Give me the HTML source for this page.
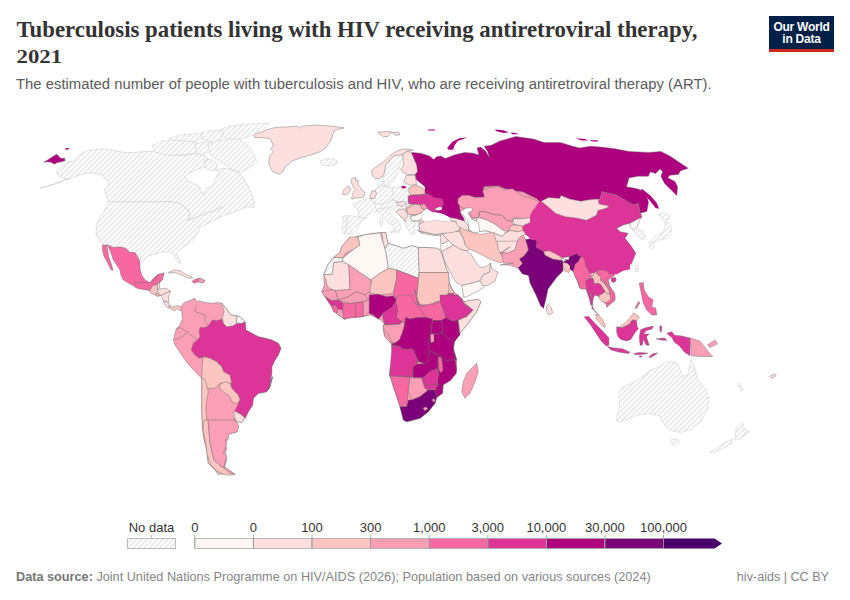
<!DOCTYPE html>
<html><head><meta charset="utf-8">
<style>
html,body{margin:0;padding:0;background:#fff;}
body{width:850px;height:600px;position:relative;overflow:hidden;font-family:"Liberation Sans",sans-serif;}
.t{position:absolute;white-space:nowrap;}
#title{left:16.5px;top:16.5px;font-family:"Liberation Serif",serif;font-weight:bold;font-size:22.8px;line-height:26px;color:#333;}
#yr{display:inline-block;transform:scaleY(0.82);transform-origin:0 80%;}
#sub{left:16px;top:75.5px;font-size:14.85px;color:#5b5b5b;}
#logo{position:absolute;left:769px;top:16px;width:65px;height:33px;background:#002147;border-bottom:3px solid #ce261e;color:#fff;font-weight:bold;font-size:12px;line-height:12px;text-align:center;}
#logo div{padding-top:5px;letter-spacing:-0.25px;}
.lg{font-size:13px;color:#333;}
#foot{left:16px;top:570px;font-size:12.7px;color:#858585;}
#foot b{color:#767676;}
#footr{right:21px;top:570px;font-size:12.6px;color:#858585;}
svg#map{position:absolute;left:0;top:0;}
</style></head>
<body>
<div class="t" id="title">Tuberculosis patients living with HIV receiving antiretroviral therapy,<br><span id="yr">2021</span></div>
<div class="t" id="sub">The estimated number of people with tuberculosis and HIV, who are receiving antiretroviral therapy (ART).</div>
<div id="logo"><div>Our World<br>in Data</div></div>

<svg id="map" width="850" height="600" viewBox="0 0 850 600">
<defs>
<pattern id="hatch" patternUnits="userSpaceOnUse" width="3.7" height="3.7" patternTransform="rotate(45)">
<rect width="3.7" height="3.7" fill="#fff"/>
<rect x="0" y="0" width="1.5" height="3.7" fill="#e6e6e6"/>
</pattern>
</defs>
<g id="land" stroke="none">
<path d="M56.7 170.8 L67.5 161.7 L73.3 160.8 L79.2 155.0 L86.7 150.8 L95.0 149.7 L104.2 148.7 L110.0 150.0 L118.3 151.3 L125.0 152.5 L133.3 152.5 L143.3 151.7 L153.3 151.3 L169.1 154.5 L182.1 155.6 L193.8 153.3 L204.4 155.6 L210.3 160.4 L206.8 167.4 L216.7 170.0 L223.3 168.3 L233.3 170.0 L240.0 173.3 L245.0 180.0 L250.0 190.0 L252.5 196.7 L254.2 203.3 L253.3 207.5 L246.7 206.7 L236.7 210.8 L223.3 215.8 L213.3 220.8 L200.0 227.5 L196.7 235.0 L191.7 241.7 L181.7 248.3 L175.8 253.3 L180.0 260.0 L180.8 264.2 L177.5 261.7 L174.2 255.8 L170.0 251.7 L163.3 251.7 L155.0 254.2 L148.3 255.8 L142.5 261.7 L137.5 255.0 L130.0 251.2 L123.8 247.5 L112.5 246.2 L102.5 245.0 L96.2 235.0 L96.2 225.0 L100.0 217.5 L105.0 210.0 L108.3 201.7 L106.7 195.8 L104.2 190.0 L107.5 186.7 L108.3 181.7 L105.0 178.3 L101.7 175.0 L96.7 173.7 L90.0 173.0 L81.7 174.2 L75.0 176.7 L67.5 179.2 L61.7 177.5 L57.5 175.0Z" fill="url(#hatch)" stroke="#ccc" stroke-width="0.6"/>
<path d="M40.0 188.3 L56.7 183.3 L68.3 178.8" fill="none" stroke="#ccc" stroke-width="1"/>
<path d="M185.0 176.7 L190.0 172.5 L200.0 168.3 L208.3 166.7 L216.7 170.0 L218.3 173.3 L215.0 180.0 L211.7 186.7 L206.7 188.3 L203.3 195.0 L200.8 190.0 L198.3 185.8 L193.3 183.3 L188.3 181.7Z" fill="#fff" stroke="#ccc" stroke-width="0.6"/>
<path d="M108.3 201.7 L170.0 201.7 L168.3 201.3 L180.0 203.3 L188.3 210.0 L190.0 216.7 L186.7 220.8 L200.0 215.8 L213.3 210.8 L223.3 206.7" fill="none" stroke="#ccc" stroke-width="0.7"/>
<path d="M253.5 133.8 L260.6 132.6 L266.5 129.7 L275.9 127.4 L288.8 126.8 L297.1 126.2 L299.4 127.9 L301.8 126.2 L315.9 125.0 L332.4 126.2 L344.1 127.9 L334.7 130.3 L332.4 136.2 L330.0 142.1 L325.3 147.9 L320.6 151.5 L311.2 155.0 L301.8 157.4 L292.4 160.9 L285.3 166.8 L282.9 171.5 L279.4 174.4 L272.4 171.5 L268.8 164.4 L269.4 156.2 L273.5 151.5 L270.6 149.1 L273.5 145.6 L270.0 138.5 L264.1 137.9 L254.7 137.4Z" fill="#fde0dd" stroke="#6e6e6e" stroke-width="0.45"/>
<path d="M320.0 161.2 L326.2 158.8 L333.8 158.8 L338.0 162.0 L333.8 165.5 L326.2 165.5 L321.2 164.5Z" fill="url(#hatch)" stroke="#ccc" stroke-width="0.6"/>
<path d="M43.7 162.5 L47.5 160.0 L52.5 156.7 L56.7 154.2 L59.2 156.7 L60.8 158.3 L64.7 158.3 L65.0 160.8 L61.7 161.7 L57.5 162.5 L54.2 164.2 L51.7 162.5 L47.5 161.7Z" fill="#ae017e" stroke="#6e6e6e" stroke-width="0.45"/>
<path d="M64.2 149.2 L66.7 148.0 L69.7 148.3 L67.5 149.7Z" fill="#ae017e" />
<path d="M102.5 245.0 L106.7 245.0 L107.5 249.2 L108.7 256.7 L111.7 265.0 L113.0 270.3 L110.8 269.7 L107.5 262.5 L104.2 256.7 L102.5 250.8Z" fill="#f768a1" stroke="#6e6e6e" stroke-width="0.45"/>
<path d="M107.0 244.7 L113.3 247.5 L120.0 247.0 L125.8 248.3 L130.0 252.5 L135.0 252.5 L137.5 256.7 L140.0 261.7 L140.0 268.3 L141.7 275.0 L145.0 280.0 L150.0 282.5 L154.2 277.5 L158.3 274.2 L163.7 274.2 L161.7 280.0 L159.2 283.3 L156.7 284.2 L152.5 285.0 L150.0 288.3 L146.7 290.0 L140.0 288.3 L131.7 285.0 L123.3 280.0 L120.8 275.0 L120.0 270.0 L116.7 265.0 L113.3 260.0 L110.8 252.5 L108.3 246.7Z" fill="#f768a1" stroke="#6e6e6e" stroke-width="0.45"/>
<path d="M135.0 282.6 L144.9 282.3 L150.3 282.6 L154.9 280.4 L157.2 275.0 L164.1 272.7 L162.5 279.6 L159.5 282.6 L157.2 283.4 L157.2 284.2 L152.6 285.7 L149.5 291.1 L146.5 289.5 L139.6 289.1 L135.0 287.2Z" fill="#f768a1" stroke="#6e6e6e" stroke-width="0.45"/>
<path d="M149.5 291.1 L152.6 285.7 L157.2 284.2 L157.9 289.5 L157.2 292.6 L160.2 295.6 L157.9 296.4 L154.9 294.9 L151.1 293.3Z" fill="#fcc5c0" stroke="#6e6e6e" stroke-width="0.45"/>
<path d="M157.2 283.4 L159.5 282.6 L159.5 287.2 L157.9 289.5Z" fill="#fde0dd" stroke="#6e6e6e" stroke-width="0.45"/>
<path d="M157.2 289.5 L162.5 288.4 L167.1 288.8 L170.6 291.1 L167.1 292.6 L161.0 295.6 L157.9 292.6Z" fill="#fde0dd" stroke="#6e6e6e" stroke-width="0.45"/>
<path d="M154.9 294.1 L157.9 293.3 L160.2 295.6 L157.2 296.0Z" fill="#fcc5c0" stroke="#6e6e6e" stroke-width="0.45"/>
<path d="M161.0 295.6 L167.1 292.6 L170.6 291.1 L168.6 296.4 L168.6 302.5 L164.1 301.4Z" fill="#fde0dd" stroke="#6e6e6e" stroke-width="0.45"/>
<path d="M163.3 301.4 L168.6 302.1 L170.2 305.6 L168.6 308.6 L164.8 304.8Z" fill="#fde0dd" stroke="#6e6e6e" stroke-width="0.45"/>
<path d="M168.6 305.6 L173.2 307.1 L177.8 305.6 L181.6 307.1 L182.4 310.2 L180.1 310.9 L177.0 308.6 L174.8 310.9 L170.2 308.6Z" fill="#fcc5c0" stroke="#6e6e6e" stroke-width="0.45"/>
<path d="M168.3 272.5 L174.2 270.0 L180.0 270.8 L185.8 274.2 L191.7 276.7 L192.5 278.3 L187.5 278.0 L181.7 275.0 L175.0 272.5 L170.0 273.3Z" fill="#fde0dd" stroke="#6e6e6e" stroke-width="0.45"/>
<path d="M191.7 281.7 L195.0 279.2 L200.0 278.3 L205.0 280.8 L203.3 282.5 L198.3 281.7 L195.0 283.0Z" fill="#f768a1" stroke="#6e6e6e" stroke-width="0.45"/>
<path d="M182.5 282.5 L187.5 283.0 L185.0 283.7Z" fill="#fde0dd" />
<path d="M180.8 306.7 L184.2 302.5 L190.8 300.0 L195.0 298.3 L196.7 301.7 L199.2 300.8 L205.0 302.5 L211.7 303.3 L218.3 302.5 L221.7 303.3 L226.7 309.2 L230.8 315.0 L236.7 315.8 L240.8 317.5 L245.0 321.7 L245.8 330.0 L251.7 333.3 L258.3 336.7 L265.0 338.3 L271.7 340.0 L278.3 343.3 L280.8 348.3 L278.3 355.0 L275.0 360.0 L271.7 366.7 L271.7 373.3 L270.0 383.3 L268.3 390.0 L272.5 376.7 L270.0 386.7 L266.7 391.7 L258.3 393.3 L253.3 398.3 L252.5 405.0 L248.3 411.7 L245.0 418.3 L241.7 422.5 L236.7 421.7 L234.2 418.3 L238.3 426.7 L236.7 431.7 L228.3 434.2 L227.5 440.0 L225.0 443.3 L226.7 448.3 L225.0 455.0 L226.7 460.0 L225.0 466.7 L225.8 470.0 L226.7 473.3 L218.3 474.2 L215.0 470.0 L208.3 463.3 L206.7 450.0 L204.2 440.0 L202.5 428.3 L201.7 411.7 L201.7 395.0 L201.7 378.3 L195.0 371.7 L187.5 363.3 L181.7 355.0 L175.0 345.0 L173.3 340.0 L175.0 333.3 L176.7 328.3 L180.0 325.0 L182.5 318.3 L181.7 311.7Z" fill="#fa9fb5" stroke="#6e6e6e" stroke-width="0.45"/>
<path d="M200.0 327.5 L205.0 327.5 L208.3 325.8 L212.5 320.0 L216.7 320.8 L221.7 319.2 L223.3 323.3 L226.7 326.7 L233.3 325.8 L236.7 323.3 L240.8 320.0 L245.0 321.7 L245.8 330.0 L251.7 333.3 L258.3 336.7 L265.0 338.3 L271.7 340.0 L278.3 343.3 L280.8 348.3 L278.3 355.0 L275.0 360.0 L271.7 366.7 L271.7 373.3 L270.0 383.3 L268.3 390.0 L272.5 376.7 L270.0 386.7 L266.7 391.7 L258.3 393.3 L253.3 398.3 L252.5 405.0 L248.3 411.7 L245.0 418.3 L241.7 415.0 L235.0 410.8 L240.0 400.0 L238.3 395.0 L231.7 388.3 L230.0 380.0 L223.3 370.0 L221.7 366.7 L216.7 361.7 L210.0 358.3 L205.0 356.7 L199.2 358.3 L195.0 355.0 L191.3 350.0 L193.3 343.3 L197.5 340.0 L200.0 336.7 L199.2 331.7Z" fill="#dd3497" stroke="#6e6e6e" stroke-width="0.45"/>
<path d="M203.3 356.7 L210.0 358.3 L216.7 361.7 L221.7 366.7 L223.3 371.7 L230.0 375.0 L231.7 383.3 L225.0 382.5 L220.0 383.3 L215.0 388.3 L208.3 388.3 L203.3 385.0 L201.7 376.7 L202.5 363.3Z" fill="#fcc5c0" stroke="#6e6e6e" stroke-width="0.45"/>
<path d="M219.2 385.0 L225.0 381.7 L230.0 383.3 L231.7 388.3 L238.3 395.0 L240.0 400.0 L236.7 403.3 L232.5 402.5 L230.0 396.7 L223.3 391.7 L220.0 388.3Z" fill="#fcc5c0" stroke="#6e6e6e" stroke-width="0.45"/>
<path d="M201.7 378.3 L205.0 379.2 L208.3 391.7 L206.7 400.0 L205.8 410.0 L207.5 428.3 L210.0 443.3 L213.3 450.0 L214.2 460.8 L218.3 468.3 L225.8 470.0 L226.7 473.3 L218.3 474.2 L215.0 470.0 L208.3 463.3 L206.7 450.0 L204.2 440.0 L202.5 428.3 L201.7 411.7 L201.7 395.0Z" fill="#fcc5c0" stroke="#6e6e6e" stroke-width="0.45"/>
<path d="M234.2 410.8 L241.7 415.0 L245.0 418.3 L241.7 422.5 L236.7 421.7 L234.2 416.7Z" fill="#fde0dd" stroke="#6e6e6e" stroke-width="0.45"/>
<path d="M221.7 303.3 L226.7 309.2 L230.8 315.0 L236.7 315.8 L236.7 323.3 L233.3 325.8 L226.7 326.7 L223.3 323.3 L222.5 316.7 L224.2 311.7Z" fill="#fde0dd" stroke="#6e6e6e" stroke-width="0.45"/>
<path d="M236.7 315.8 L240.8 317.5 L245.0 321.7 L241.7 323.3 L236.7 323.3Z" fill="url(#hatch)" stroke="#6e6e6e" stroke-width="0.45"/>
<path d="M195.8 305.8 L195.0 311.7 L205.0 315.0 L205.0 321.7 L208.3 325.8" fill="none" stroke="#6e6e6e" stroke-width="0.45"/>
<path d="M175.0 330.0 L180.0 327.5 L186.7 331.7 L193.3 336.7 L197.5 340.0" fill="none" stroke="#6e6e6e" stroke-width="0.45"/>
<path d="M173.3 340.0 L180.0 338.3 L186.7 333.3" fill="none" stroke="#6e6e6e" stroke-width="0.45"/>
<path d="M352.9 203.5 L357.6 201.8 L363.5 199.4 L369.4 198.2 L370.6 195.3 L374.1 190.6 L377.6 186.5 L378.8 181.8 L382.4 181.2 L382.9 185.3 L384.7 186.5 L391.8 187.6 L401.2 186.5 L407.1 187.6 L409.4 187.6 L408.8 191.2 L408.2 195.9 L408.2 201.8 L405.9 207.6 L405.9 211.2 L410.6 214.7 L411.8 220.6 L416.5 224.1 L412.9 227.6 L415.3 233.5 L410.6 234.7 L408.2 230.0 L405.9 225.3 L404.1 221.8 L401.2 217.1 L396.5 212.4 L391.8 208.8 L389.4 212.4 L392.9 217.1 L398.8 220.6 L401.2 225.3 L400.0 230.0 L397.6 233.5 L395.3 231.2 L392.9 225.3 L387.1 221.8 L383.5 217.1 L380.0 212.4 L376.5 211.2 L370.6 213.5 L365.9 217.1 L363.5 219.4 L361.2 221.8 L357.6 228.8 L352.9 233.5 L347.1 234.1 L343.5 233.5 L341.8 228.8 L343.5 221.8 L342.4 217.1 L344.7 215.3 L351.8 215.9 L358.8 217.1 L358.8 214.7 L357.6 208.8 L354.1 205.3Z" fill="url(#hatch)" stroke="#ccc" stroke-width="0.5"/>
<path d="M380.0 218.2 L382.4 217.1 L382.9 222.9 L381.2 226.5 L380.0 224.1Z" fill="url(#hatch)" stroke="#ccc" stroke-width="0.5"/>
<path d="M390.6 231.2 L395.3 230.6 L394.7 233.5 L390.6 232.9Z" fill="url(#hatch)" stroke="#ccc" stroke-width="0.5"/>
<path d="M384.8 170.2 L385.8 164.9 L390.1 159.6 L395.4 155.4 L398.5 154.4 L402.8 155.4 L400.7 161.8 L398.5 172.4 L396.4 175.5 L394.3 180.8 L390.1 185.1 L385.8 187.2 L383.7 182.9 L382.6 176.6Z" fill="url(#hatch)" stroke="#ccc" stroke-width="0.5"/>
<path d="M371.5 170.2 L377.4 166.0 L383.7 161.8 L390.1 155.4 L396.4 151.2 L402.8 149.1 L409.1 149.1 L413.4 150.1 L407.0 151.2 L402.8 154.4 L398.5 155.4 L394.3 155.4 L390.1 159.6 L385.8 164.9 L384.8 170.2 L383.7 175.5 L379.5 178.7 L375.2 178.7 L372.1 174.5Z" fill="#fde0dd" stroke="#6e6e6e" stroke-width="0.45"/>
<path d="M402.8 154.4 L407.0 151.2 L411.2 152.2 L416.5 158.6 L417.6 164.9 L418.7 170.2 L415.5 174.5 L408.1 174.5 L402.8 172.4 L400.7 169.2 L403.8 164.9 L402.8 159.6Z" fill="#fde0dd" stroke="#6e6e6e" stroke-width="0.45"/>
<path d="M377.4 132.1 L385.8 131.6 L392.2 132.1 L387.9 136.4 L383.7 136.9Z" fill="#fde0dd" stroke="#6e6e6e" stroke-width="0.45"/>
<path d="M392.2 132.6 L398.5 132.1 L399.6 134.8 L395.4 135.3Z" fill="#fde0dd" stroke="#6e6e6e" stroke-width="0.45"/>
<path d="M351.5 179.0 L353.0 178.0 L356.0 177.8 L355.5 180.0 L358.5 180.5 L357.5 184.0 L360.0 187.0 L362.0 190.0 L365.0 192.5 L364.5 196.0 L362.0 197.5 L356.0 198.0 L352.5 199.0 L351.0 198.5 L353.0 196.5 L352.5 194.5 L353.5 192.0 L355.5 189.5 L353.5 187.5 L352.5 185.0 L351.0 181.5Z" fill="#fde0dd" stroke="#6e6e6e" stroke-width="0.45"/>
<path d="M342.5 194.0 L343.5 190.0 L346.0 187.5 L348.0 186.2 L350.0 187.5 L350.5 189.0 L349.5 191.5 L347.5 194.0 L344.5 195.0Z" fill="#fde0dd" stroke="#6e6e6e" stroke-width="0.45"/>
<path d="M370.0 195.9 L371.8 191.2 L375.3 190.6 L376.5 193.5 L374.7 198.2 L370.6 198.8Z" fill="#fde0dd" stroke="#6e6e6e" stroke-width="0.45"/>
<path d="M405.9 175.5 L415.5 175.0 L416.5 185.1 L409.1 185.1 L403.8 181.9 L404.9 178.7Z" fill="#fde0dd" stroke="#6e6e6e" stroke-width="0.45"/>
<path d="M401.2 186.5 L402.9 185.9 L405.9 186.5 L405.9 188.2 L401.8 188.2Z" fill="#ae017e" />
<path d="M409.4 187.6 L415.3 184.7 L422.4 187.6 L425.9 191.8 L422.4 194.7 L410.6 195.3 L408.8 191.2Z" fill="#fcc5c0" stroke="#6e6e6e" stroke-width="0.45"/>
<path d="M408.2 195.9 L410.6 195.3 L422.4 194.7 L425.9 193.5 L434.1 197.1 L440.0 199.4 L440.0 208.8 L434.1 212.4 L430.6 208.8 L424.7 208.8 L422.4 205.3 L416.5 204.1 L410.6 204.1 L408.2 201.8Z" fill="#dd3497" stroke="#6e6e6e" stroke-width="0.45"/>
<path d="M405.9 207.6 L410.6 204.7 L416.5 204.1 L421.2 205.3 L424.7 210.0 L422.4 214.7 L415.3 215.3 L410.6 214.7 L405.9 211.2Z" fill="#fcc5c0" stroke="#6e6e6e" stroke-width="0.45"/>
<path d="M410.6 215.9 L421.2 215.3 L422.4 219.4 L416.5 221.8 L411.8 220.6Z" fill="#fff7f3" stroke="#6e6e6e" stroke-width="0.45"/>
<path d="M396.5 202.4 L403.5 201.2 L407.1 204.1 L402.4 206.5 L397.6 205.3Z" fill="#fde0dd" stroke="#6e6e6e" stroke-width="0.45"/>
<path d="M397.6 210.0 L403.5 208.8 L407.6 213.5 L407.1 217.6 L405.3 221.8 L403.5 218.2 L401.2 217.1 L396.5 212.4Z" fill="#fde0dd" stroke="#6e6e6e" stroke-width="0.45"/>
<path d="M418.8 221.8 L429.4 220.0 L440.0 221.8 L443.5 222.9 L443.5 235.9 L432.9 235.3 L422.4 233.5 L419.4 228.8Z" fill="#fde0dd" stroke="#6e6e6e" stroke-width="0.45"/>
<path d="M411.7 153.3 L411.8 152.4 L420.6 153.2 L429.4 155.9 L433.8 159.4 L436.5 156.8 L440.9 155.9 L445.3 158.5 L454.1 155.0 L464.7 152.4 L473.5 153.2 L478.8 155.0 L477.1 147.9 L480.6 147.1 L485.9 151.5 L489.4 157.6 L487.6 151.5 L484.1 146.2 L491.2 145.3 L500.0 140.9 L515.9 136.5 L533.5 139.1 L544.1 142.6 L560.0 142.6 L563.8 143.5 L572.6 146.2 L579.7 147.9 L590.3 146.2 L600.9 147.1 L615.0 148.8 L629.1 151.5 L648.5 152.4 L660.9 151.5 L669.7 155.9 L680.3 162.9 L688.2 168.2 L680.3 170.9 L678.5 174.4 L669.7 175.3 L667.9 177.9 L675.0 181.5 L677.6 186.8 L676.8 195.6 L671.5 190.3 L664.4 183.2 L660.9 176.2 L662.6 171.8 L660.0 169.1 L655.6 173.5 L650.3 171.8 L648.5 176.2 L637.9 176.2 L629.1 177.9 L626.5 186.8 L636.2 188.5 L641.5 190.3 L646.8 195.6 L648.5 202.6 L646.8 211.5 L639.7 213.2 L641.7 217.5 L640.0 211.7 L638.3 203.3 L633.3 205.0 L625.0 200.0 L616.7 195.0 L601.7 191.7 L600.0 198.3 L588.3 200.0 L578.3 200.0 L560.0 195.0 L550.0 198.3 L541.7 200.8 L540.6 202.6 L537.0 199.1 L522.9 192.1 L508.8 190.3 L498.2 185.9 L484.1 186.8 L482.3 195.6 L462.9 195.6 L457.6 199.1 L458.3 200.0 L460.0 211.7 L462.0 222.0 L458.3 223.3 L451.7 218.3 L441.7 215.0 L435.0 211.7 L438.3 208.3 L443.3 205.0 L443.3 200.0 L435.0 196.7 L425.0 193.3 L425.0 186.7 L416.7 180.0 L415.0 175.0 L417.5 171.7 L416.7 165.0Z" fill="#ae017e" stroke="#6e6e6e" stroke-width="0.45"/>
<path d="M447.1 147.9 L452.4 141.8 L459.4 138.2 L467.3 137.4 L457.6 140.9 L454.1 146.2 L453.2 149.7 L448.8 149.7Z" fill="#ae017e" />
<path d="M494.7 129.4 L503.5 130.3 L508.8 132.4 L503.5 132.9 L496.5 131.2Z" fill="#ae017e" />
<path d="M510.6 132.4 L515.9 132.9 L518.5 134.2 L512.3 134.2Z" fill="#ae017e" />
<path d="M427.6 129.4 L434.7 129.4 L435.6 130.6 L428.5 130.6Z" fill="#ae017e" />
<path d="M575.3 138.2 L585.0 139.1 L588.5 140.5 L581.5 140.5Z" fill="#ae017e" />
<path d="M590.3 140.0 L598.2 140.5 L597.4 141.8 L591.2 141.2Z" fill="#ae017e" />
<path d="M641.5 188.5 L650.3 195.6 L656.5 202.6 L659.1 208.8 L655.6 207.9 L648.5 199.1 L641.5 192.1Z" fill="#ae017e" />
<path d="M457.6 199.1 L462.9 195.6 L482.3 195.6 L484.1 186.8 L498.2 185.9 L508.8 190.3 L522.9 192.1 L537.1 199.1 L540.6 202.6 L541.7 200.8 L538.3 203.3 L535.0 211.7 L531.7 218.3 L520.0 218.3 L511.7 221.7 L503.3 216.7 L495.0 213.3 L483.3 210.0 L478.3 213.3 L473.3 220.0 L465.0 221.7 L460.0 211.7 L458.3 200.0 L461.7 195.8Z" fill="#fa9fb5" stroke="#6e6e6e" stroke-width="0.45"/>
<path d="M550.0 211.7 L555.0 213.3 L570.0 216.7 L585.0 220.8 L595.0 216.7 L600.0 211.7 L608.3 206.7 L598.3 203.3 L600.0 198.3 L601.7 191.7 L616.7 195.0 L625.0 200.0 L633.3 205.0 L638.3 203.3 L640.0 211.7 L641.7 217.5 L635.0 220.8 L630.0 223.3 L623.3 225.0 L616.7 228.3 L620.0 231.7 L628.3 233.3 L625.0 238.3 L631.7 246.7 L635.8 253.3 L631.7 263.3 L623.3 270.0 L613.3 273.3 L605.0 271.7 L600.0 270.0 L593.3 273.3 L585.0 266.7 L580.0 260.0 L580.0 255.8 L573.3 254.2 L563.3 256.7 L550.0 253.3 L543.3 251.7 L536.7 245.0 L531.7 238.3 L523.3 233.3 L521.7 228.3 L531.7 218.3 L535.0 211.7 L538.3 203.3 L543.3 200.0 L556.7 201.7 L570.0 200.0Z" fill="#dd3497" stroke="#6e6e6e" stroke-width="0.45"/>
<path d="M611.7 278.3 L615.8 278.0 L615.3 281.7 L612.0 282.0Z" fill="#dd3497" stroke="#6e6e6e" stroke-width="0.45"/>
<path d="M630.0 223.3 L635.0 220.8 L640.8 217.5 L638.3 223.3 L636.7 228.3 L633.3 230.0 L630.0 226.7Z" fill="#fff7f3" stroke="#6e6e6e" stroke-width="0.45"/>
<path d="M633.3 230.0 L636.7 228.3 L643.3 231.7 L645.8 238.3 L641.7 240.0 L638.3 236.7Z" fill="url(#hatch)" stroke="#ccc" stroke-width="0.5"/>
<path d="M669.9 223.3 L671.8 228.9 L670.8 234.6 L666.1 238.4 L658.6 240.2 L652.9 243.1 L650.1 242.1 L654.8 236.5 L662.4 232.7 L665.2 227.1 L664.2 221.4Z" fill="url(#hatch)" stroke="#ccc" stroke-width="0.5"/>
<path d="M658.6 214.8 L664.2 212.0 L669.9 215.8 L668.0 220.5 L662.4 219.5Z" fill="url(#hatch)" stroke="#ccc" stroke-width="0.5"/>
<path d="M649.2 242.1 L653.9 243.1 L652.9 248.7 L649.2 247.8Z" fill="url(#hatch)" stroke="#ccc" stroke-width="0.5"/>
<path d="M635.8 265.8 L638.3 265.0 L638.0 271.7 L635.3 271.3Z" fill="url(#hatch)" stroke="#ccc" stroke-width="0.5"/>
<path d="M480.0 211.7 L483.3 210.0 L495.0 213.3 L503.3 216.7 L510.0 223.3 L508.3 230.0 L503.3 228.3 L495.0 223.3 L488.3 218.3Z" fill="#fa9fb5" stroke="#6e6e6e" stroke-width="0.45"/>
<path d="M473.3 220.8 L480.0 220.0 L488.3 218.3 L495.0 223.3 L503.3 228.3 L500.0 235.0 L490.0 231.7 L480.0 230.0 L477.5 230.0 L478.3 223.3Z" fill="#fff7f3" stroke="#6e6e6e" stroke-width="0.45"/>
<path d="M511.7 218.3 L520.0 218.3 L531.7 218.3 L526.7 223.3 L516.7 225.0Z" fill="#fff7f3" stroke="#6e6e6e" stroke-width="0.45"/>
<path d="M510.0 223.3 L516.7 225.0 L521.7 226.7 L520.0 230.0 L511.7 230.0Z" fill="#fa9fb5" stroke="#6e6e6e" stroke-width="0.45"/>
<path d="M460.0 211.7 L465.0 208.3 L471.7 208.3 L471.7 211.7 L468.3 215.0 L470.0 220.8 L478.3 223.3 L477.5 230.0 L471.7 232.5 L468.3 225.8 L465.0 220.8 L461.7 216.7Z" fill="#fff" stroke="#6e6e6e" stroke-width="0.45"/>
<path d="M440.0 221.8 L445.9 222.4 L429.0 221.7 L439.5 221.0 L450.0 219.5 L457.5 222.5 L460.5 225.5 L462.0 229.2 L459.0 231.5 L450.0 230.7 L442.5 233.7 L435.0 234.5 L427.5 233.0 L420.0 231.5 L417.0 230.0 L422.4 233.5 L419.4 228.8Z" fill="#fde0dd" stroke="#6e6e6e" stroke-width="0.45"/>
<path d="M459.0 228.5 L462.0 227.0 L466.5 228.5 L469.5 231.5 L480.0 234.5 L489.0 233.0 L496.5 230.0 L498.0 237.5 L498.0 245.0 L501.0 254.0 L504.0 260.0 L501.0 263.0 L492.0 260.0 L483.0 255.5 L474.0 251.0 L469.5 249.5 L465.0 245.0 L463.5 239.0Z" fill="#fcc5c0" stroke="#6e6e6e" stroke-width="0.45"/>
<path d="M450.0 230.7 L459.0 231.5 L463.5 239.0 L465.0 245.0 L469.5 249.5 L466.5 251.0 L460.5 249.5 L453.0 245.0 L448.5 240.5 L442.5 234.5Z" fill="#fde0dd" stroke="#6e6e6e" stroke-width="0.45"/>
<path d="M441.0 233.7 L442.5 234.5 L448.5 240.5 L444.0 243.5 L441.0 243.5 L440.2 237.5Z" fill="#fde0dd" stroke="#6e6e6e" stroke-width="0.45"/>
<path d="M441.0 243.5 L444.0 243.5 L448.5 240.5 L453.0 245.0 L450.0 247.2 L445.5 249.5 L441.7 251.7 L440.2 247.2Z" fill="#fff7f3" stroke="#6e6e6e" stroke-width="0.45"/>
<path d="M441.7 251.7 L445.5 249.5 L450.0 247.2 L453.0 245.0 L460.5 249.5 L466.5 251.0 L471.0 254.0 L475.5 261.5 L480.0 267.5 L486.0 266.7 L490.5 263.0 L489.7 272.0 L483.0 275.0 L480.0 281.0 L468.0 284.0 L462.0 285.5 L456.0 282.5 L450.0 272.0 L444.0 260.0Z" fill="#fde0dd" stroke="#6e6e6e" stroke-width="0.45"/>
<path d="M490.5 263.0 L492.0 269.0 L498.0 272.0 L495.0 281.0 L487.5 285.5 L483.0 285.5 L480.0 281.0 L483.0 275.0 L489.7 272.0Z" fill="#fde0dd" stroke="#6e6e6e" stroke-width="0.45"/>
<path d="M462.0 285.5 L468.0 284.0 L480.0 281.0 L483.0 285.5 L484.5 287.0 L477.0 291.5 L468.0 296.0 L463.5 297.5Z" fill="#fff7f3" stroke="#6e6e6e" stroke-width="0.45"/>
<path d="M522.5 226.0 L530.0 221.5 L590.0 220.0 L590.0 257.5 L581.0 257.5 L576.5 253.7 L570.5 256.0 L566.0 260.5 L561.5 257.5 L557.0 254.5 L549.5 250.7 L543.5 251.5 L536.0 247.0 L536.7 242.5 L534.5 238.0 L530.0 235.0Z" fill="#dd3497" />
<path d="M496.7 236.7 L503.3 233.3 L511.7 230.0 L500.0 236.5 L509.0 232.0 L519.5 230.5 L522.5 233.5 L518.0 239.5 L515.0 250.0 L507.5 253.0 L500.0 253.0 L501.7 253.3 L498.3 250.0Z" fill="#fde0dd" stroke="#6e6e6e" stroke-width="0.45"/>
<path d="M501.7 253.3 L510.0 246.7 L500.0 253.0 L507.5 253.0 L515.0 250.0 L518.0 239.5 L522.5 233.5 L525.5 239.5 L527.0 244.0 L528.5 250.0 L524.0 256.0 L519.5 259.0 L522.5 263.5 L518.0 268.0 L509.0 265.0 L500.0 265.0 L513.3 263.3 L503.3 263.3Z" fill="#fa9fb5" stroke="#6e6e6e" stroke-width="0.45"/>
<path d="M525.5 239.5 L534.5 238.0 L536.7 242.5 L536.0 247.0 L543.5 251.5 L549.5 256.0 L561.5 259.0 L563.0 262.0 L566.0 260.5 L570.5 256.0 L576.5 253.7 L581.0 257.5 L578.0 262.0 L575.0 266.5 L573.5 271.0 L570.5 266.5 L567.5 263.5 L563.0 263.5 L563.0 271.0 L557.0 277.0 L552.5 283.0 L548.0 289.0 L546.5 296.5 L543.5 308.5 L540.5 305.5 L536.0 295.0 L530.0 283.0 L528.5 275.5 L522.5 274.0 L518.0 268.0 L522.5 263.5 L519.5 259.0 L524.0 256.0 L528.5 250.0 L527.0 244.0Z" fill="#7a0177" stroke="#6e6e6e" stroke-width="0.45"/>
<path d="M563.0 262.0 L567.5 263.5 L570.5 266.5 L569.0 272.5 L564.5 271.0 L563.0 265.0Z" fill="#fcc5c0" stroke="#6e6e6e" stroke-width="0.45"/>
<path d="M543.5 251.5 L549.5 250.7 L557.0 254.5 L561.5 257.5 L561.5 260.5 L552.5 259.0 L545.0 255.2Z" fill="#fcc5c0" stroke="#6e6e6e" stroke-width="0.45"/>
<path d="M563.0 257.5 L569.0 256.7 L569.0 259.7 L563.7 259.7Z" fill="#fff7f3" stroke="#6e6e6e" stroke-width="0.45"/>
<path d="M546.5 306.0 L548.5 304.5 L551.5 308.0 L552.5 313.0 L549.0 315.0 L546.5 311.0Z" fill="#fde0dd" stroke="#6e6e6e" stroke-width="0.45"/>
<path d="M576.5 257.5 L581.0 257.5 L584.0 256.0 L587.0 262.0 L584.0 268.0 L585.5 277.0 L586.7 280.0 L588.3 288.3 L591.7 295.0 L590.8 303.3 L590.0 296.7 L585.0 288.3 L580.0 288.3 L576.7 280.0 L573.3 270.0 L573.5 271.0 L575.0 266.5 L578.0 262.0Z" fill="#f768a1" stroke="#6e6e6e" stroke-width="0.45"/>
<path d="M586.7 280.0 L593.3 278.3 L600.0 281.7 L603.3 288.3 L605.8 295.0 L600.0 296.7 L595.0 295.0 L593.3 298.3 L591.7 308.3 L599.2 315.0 L595.0 311.7 L590.8 303.3 L591.7 295.0 L588.3 288.3Z" fill="#dd3497" stroke="#6e6e6e" stroke-width="0.45"/>
<path d="M591.7 275.0 L596.7 273.3 L603.3 280.0 L610.0 286.7 L610.0 293.3 L605.8 295.0 L603.3 288.3 L600.0 281.7 L593.3 278.3Z" fill="#fcc5c0" stroke="#6e6e6e" stroke-width="0.45"/>
<path d="M600.0 296.7 L605.8 295.0 L610.0 293.3 L610.0 298.3 L605.8 301.7Z" fill="#fcc5c0" stroke="#6e6e6e" stroke-width="0.45"/>
<path d="M596.7 270.0 L610.0 270.0 L615.0 275.0 L608.3 280.0 L610.0 286.7 L614.2 293.3 L615.0 300.0 L606.7 307.5 L605.8 301.7 L610.0 298.3 L610.0 293.3 L610.0 286.7 L603.3 280.0 L596.7 273.3Z" fill="#f768a1" stroke="#6e6e6e" stroke-width="0.45"/>
<path d="M595.5 314.1 L599.1 315.5 L602.6 319.8 L605.4 325.4 L604.7 327.5 L601.2 324.7 L596.9 319.8Z" fill="#fcc5c0" stroke="#6e6e6e" stroke-width="0.45"/>
<path d="M584.2 316.9 L588.5 316.2 L594.1 322.6 L599.8 328.2 L605.4 333.9 L608.9 338.1 L608.9 345.2 L606.1 345.9 L601.2 340.9 L595.5 332.5 L589.9 324.0Z" fill="#dd3497" stroke="#6e6e6e" stroke-width="0.45"/>
<path d="M607.5 346.6 L613.9 348.0 L622.4 348.7 L630.1 352.2 L628.0 353.6 L619.5 352.2 L611.1 350.1Z" fill="#dd3497" stroke="#6e6e6e" stroke-width="0.45"/>
<path d="M633.6 353.6 L639.3 352.5 L646.4 352.9 L647.8 353.6 L642.1 354.4 L635.8 354.8Z" fill="#dd3497" stroke="#6e6e6e" stroke-width="0.45"/>
<path d="M639.3 355.8 L642.1 356.2 L641.8 357.3 L639.3 356.8Z" fill="#dd3497" stroke="#6e6e6e" stroke-width="0.45"/>
<path d="M649.2 356.5 L653.4 353.6 L657.7 352.9 L654.8 355.1 L649.9 357.9Z" fill="#dd3497" stroke="#6e6e6e" stroke-width="0.45"/>
<path d="M616.7 326.8 L622.4 327.5 L629.4 324.0 L632.2 319.8 L636.5 320.5 L637.2 326.8 L638.6 328.2 L635.1 332.5 L630.8 339.5 L626.6 340.9 L620.9 339.5 L618.1 336.7 L616.7 332.5Z" fill="#dd3497" stroke="#6e6e6e" stroke-width="0.45"/>
<path d="M618.8 327.5 L623.8 324.0 L629.4 318.4 L633.6 312.7 L639.3 316.9 L636.5 320.5 L632.2 319.8 L629.4 324.0 L622.4 327.5Z" fill="#fcc5c0" stroke="#6e6e6e" stroke-width="0.45"/>
<path d="M640.7 329.6 L646.4 327.5 L653.4 326.1 L652.0 328.9 L646.4 330.4 L643.5 333.9 L649.2 333.9 L646.4 336.7 L649.2 345.2 L646.4 345.2 L643.5 339.5 L642.1 345.2 L640.0 345.2 L639.3 336.7Z" fill="#dd3497" stroke="#6e6e6e" stroke-width="0.45"/>
<path d="M659.8 325.4 L661.9 326.8 L661.2 332.5 L659.8 330.4Z" fill="#dd3497" stroke="#6e6e6e" stroke-width="0.45"/>
<path d="M656.2 338.8 L664.7 338.1 L666.8 340.2 L661.9 340.2Z" fill="#dd3497" stroke="#6e6e6e" stroke-width="0.45"/>
<path d="M666.8 333.2 L671.8 331.8 L674.6 335.3 L681.7 336.0 L690.1 338.1 L690.1 355.8 L684.5 352.2 L678.8 345.2 L674.6 342.4 L671.8 337.4 L668.9 335.3Z" fill="#dd3497" stroke="#6e6e6e" stroke-width="0.45"/>
<path d="M690.1 338.1 L700.0 340.9 L704.2 346.6 L709.9 353.6 L712.7 356.5 L700.0 356.5 L691.5 355.8Z" fill="#fa9fb5" stroke="#6e6e6e" stroke-width="0.45"/>
<path d="M639.2 283.3 L643.3 282.5 L644.2 290.0 L648.3 296.7 L653.3 300.0 L651.7 306.7 L655.8 308.3 L656.7 315.0 L651.7 315.0 L646.7 310.0 L643.3 303.3 L641.7 295.0Z" fill="#f768a1" stroke="#6e6e6e" stroke-width="0.45"/>
<path d="M635.0 308.3 L638.3 301.7 L640.0 302.5 L636.7 308.3Z" fill="#f768a1" stroke="#6e6e6e" stroke-width="0.45"/>
<path d="M348.3 240.0 L355.8 236.7 L363.3 235.0 L373.3 233.3 L381.7 232.5 L385.8 232.5 L386.7 238.3 L388.3 243.3 L393.3 245.0 L403.3 248.3 L411.7 245.8 L418.3 247.5 L426.7 247.5 L436.7 248.3 L440.0 250.0 L441.7 253.3 L446.7 270.0 L448.3 272.5 L449.2 283.3 L453.3 291.7 L461.7 298.3 L464.2 301.7 L478.3 299.2 L480.8 301.7 L476.7 311.7 L468.3 323.3 L460.0 333.3 L455.0 340.0 L453.3 348.3 L456.7 360.0 L456.7 370.0 L451.7 376.7 L443.3 383.3 L442.5 393.3 L436.7 397.5 L435.0 403.3 L428.3 411.7 L420.0 418.3 L406.7 421.7 L403.3 420.0 L401.7 413.3 L400.0 406.7 L396.7 396.7 L393.3 386.7 L390.0 375.8 L390.0 370.0 L393.3 356.7 L391.7 346.7 L390.8 343.3 L385.0 336.7 L383.3 330.0 L385.0 325.0 L381.7 320.8 L377.5 318.3 L370.0 315.0 L361.7 316.7 L351.7 317.5 L344.2 319.2 L338.3 315.0 L331.7 306.7 L325.0 296.7 L321.7 291.7 L322.0 290.7 L324.3 284.8 L323.8 274.9 L327.8 265.0 L333.7 257.4 L340.1 252.2 L341.8 246.3 L350.0 237.0Z" fill="#fa9fb5" stroke="#6e6e6e" stroke-width="0.45"/>
<path d="M333.7 257.4 L340.1 252.2 L341.8 246.3 L350.0 237.0 L358.2 237.0 L359.9 245.2 L353.5 249.3 L345.3 253.3 L343.0 258.0Z" fill="#fcc5c0" stroke="#6e6e6e" stroke-width="0.45"/>
<path d="M323.8 274.9 L327.8 265.0 L333.7 257.4 L343.0 258.0 L342.4 261.5 L333.7 262.7 L332.5 274.3Z" fill="url(#hatch)" stroke="#6e6e6e" stroke-width="0.45"/>
<path d="M343.0 258.0 L353.5 249.3 L359.9 245.2 L358.2 237.0 L365.2 234.7 L380.3 232.9 L383.3 243.3 L385.0 248.3 L386.7 256.7 L388.3 268.3 L380.0 273.3 L371.0 280.2 L348.8 265.0 L342.4 261.5Z" fill="#fff7f3" stroke="#6e6e6e" stroke-width="0.45"/>
<path d="M381.7 232.5 L385.8 232.5 L386.7 238.3 L388.3 243.3 L385.0 248.3 L383.3 243.3Z" fill="#fde0dd" stroke="#6e6e6e" stroke-width="0.45"/>
<path d="M385.0 248.3 L388.3 243.3 L393.3 245.0 L403.3 248.3 L411.7 245.8 L418.3 247.5 L419.2 271.7 L418.3 278.3 L410.0 275.0 L396.7 270.0 L388.3 268.3 L386.7 256.7Z" fill="url(#hatch)" stroke="#6e6e6e" stroke-width="0.45"/>
<path d="M418.3 247.5 L426.7 247.5 L436.7 248.3 L440.0 250.0 L441.7 253.3 L446.7 270.0 L448.3 272.5 L419.2 272.5Z" fill="#fde0dd" stroke="#6e6e6e" stroke-width="0.45"/>
<path d="M323.8 274.9 L332.5 274.3 L333.7 262.7 L342.4 261.5 L348.8 265.0 L350.0 289.5 L334.8 290.7 L327.8 287.2 L325.5 279.0Z" fill="#fde0dd" stroke="#6e6e6e" stroke-width="0.45"/>
<path d="M348.8 265.0 L371.0 280.2 L372.2 290.7 L371.7 290.0 L365.0 295.0 L356.7 291.7 L348.3 296.7 L338.3 300.0 L335.0 290.0 L334.8 290.7 L350.0 289.5Z" fill="#fa9fb5" stroke="#6e6e6e" stroke-width="0.45"/>
<path d="M371.7 279.2 L380.0 273.3 L388.3 268.3 L396.7 270.0 L396.7 278.3 L393.3 293.3 L380.0 295.0 L370.0 293.3 L370.0 290.0Z" fill="#fcc5c0" stroke="#6e6e6e" stroke-width="0.45"/>
<path d="M396.7 270.0 L410.0 275.0 L418.3 278.3 L416.7 300.0 L415.0 290.0 L418.3 301.7 L408.3 305.0 L398.3 310.0 L396.7 300.0 L393.3 293.3 L396.7 278.3Z" fill="#f768a1" stroke="#6e6e6e" stroke-width="0.45"/>
<path d="M419.2 272.5 L448.3 272.5 L449.2 283.3 L453.3 291.7 L448.3 293.3 L441.7 301.7 L436.7 301.7 L430.0 305.0 L420.0 305.0 L418.3 301.7 L415.0 290.0 L416.7 300.0Z" fill="#fcc5c0" stroke="#6e6e6e" stroke-width="0.45"/>
<path d="M321.7 291.7 L328.3 290.0 L335.0 290.0 L338.3 300.0 L331.7 300.8 L325.0 296.7Z" fill="#fa9fb5" stroke="#6e6e6e" stroke-width="0.45"/>
<path d="M325.0 296.7 L331.7 300.8 L338.3 300.0 L343.3 303.3 L342.5 310.0 L338.3 309.2 L335.0 305.0 L331.7 306.7Z" fill="#dd3497" stroke="#6e6e6e" stroke-width="0.45"/>
<path d="M331.7 306.7 L335.0 305.0 L338.3 309.2 L336.7 313.3 L333.3 311.7Z" fill="#f768a1" stroke="#6e6e6e" stroke-width="0.45"/>
<path d="M336.7 313.3 L338.3 309.2 L342.5 310.0 L344.2 319.2 L340.0 315.8Z" fill="#fa9fb5" stroke="#6e6e6e" stroke-width="0.45"/>
<path d="M342.5 310.0 L343.3 303.3 L350.0 303.3 L355.8 302.5 L355.8 317.5 L351.7 317.5 L344.2 319.2Z" fill="#f768a1" stroke="#6e6e6e" stroke-width="0.45"/>
<path d="M348.3 296.7 L356.7 291.7 L365.0 295.0 L368.3 300.0 L363.3 301.7 L355.8 302.5 L350.0 303.3 L338.3 300.0Z" fill="#fa9fb5" stroke="#6e6e6e" stroke-width="0.45"/>
<path d="M355.8 302.5 L363.3 301.7 L363.3 316.7 L355.8 317.5Z" fill="#f768a1" stroke="#6e6e6e" stroke-width="0.45"/>
<path d="M363.3 301.7 L368.3 300.0 L370.0 296.7 L369.2 313.3 L363.3 316.7Z" fill="#fa9fb5" stroke="#6e6e6e" stroke-width="0.45"/>
<path d="M369.2 295.0 L378.3 294.2 L386.7 296.7 L393.3 295.8 L396.7 300.0 L393.3 306.7 L388.3 311.7 L383.3 313.3 L378.3 319.2 L373.3 315.0 L369.2 313.3Z" fill="#ae017e" stroke="#6e6e6e" stroke-width="0.45"/>
<path d="M382.5 313.3 L388.3 311.7 L393.3 306.7 L396.7 300.0 L398.3 310.0 L397.5 311.7 L398.3 321.7 L396.7 325.0 L385.0 325.0 L383.3 320.0Z" fill="#dd3497" stroke="#6e6e6e" stroke-width="0.45"/>
<path d="M397.5 311.7 L408.3 305.0 L418.3 301.7 L418.3 309.0 L421.7 315.0 L426.7 318.3 L415.0 318.3 L405.0 321.7 L398.3 321.7Z" fill="#f768a1" stroke="#6e6e6e" stroke-width="0.45"/>
<path d="M418.3 301.7 L420.0 305.0 L430.0 305.0 L436.7 301.7 L441.7 301.7 L440.0 310.0 L445.0 316.7 L436.7 320.0 L426.7 318.3 L426.7 318.3 L421.7 315.0 L418.3 309.0Z" fill="#f768a1" stroke="#6e6e6e" stroke-width="0.45"/>
<path d="M383.3 325.0 L396.7 325.0 L398.3 321.7 L405.0 321.7 L403.3 330.0 L400.0 335.0 L396.7 340.0 L390.8 343.3 L385.0 336.7 L383.3 330.0Z" fill="#fa9fb5" stroke="#6e6e6e" stroke-width="0.45"/>
<path d="M405.0 321.7 L415.0 318.3 L431.7 320.0 L431.7 333.3 L430.0 350.0 L430.0 358.3 L425.0 363.3 L418.3 361.7 L415.0 353.3 L405.0 350.0 L398.3 346.7 L391.7 345.0 L396.7 340.0 L400.0 335.0 L403.3 330.0Z" fill="#ae017e" stroke="#6e6e6e" stroke-width="0.45"/>
<path d="M391.7 345.0 L398.3 346.7 L405.0 350.0 L415.0 353.3 L418.3 361.7 L413.3 365.0 L415.0 373.3 L414.2 376.7 L410.0 377.5 L389.2 375.8 L390.0 370.0 L393.3 356.7Z" fill="#dd3497" stroke="#6e6e6e" stroke-width="0.45"/>
<path d="M413.3 365.0 L425.0 363.3 L430.0 358.3 L438.3 361.7 L440.0 360.0 L438.3 370.0 L431.7 373.3 L423.3 376.7 L414.2 376.7 L413.3 360.0 L415.0 373.3Z" fill="#ae017e" stroke="#6e6e6e" stroke-width="0.45"/>
<path d="M433.3 320.0 L443.3 319.2 L455.0 320.0 L458.3 320.0 L460.0 335.0 L455.0 340.0 L453.3 348.3 L456.7 360.0 L450.0 361.7 L440.0 360.0 L430.0 348.3 L430.0 335.0 L431.7 334.2Z" fill="#ae017e" stroke="#6e6e6e" stroke-width="0.45"/>
<path d="M440.0 310.0 L441.7 301.7 L448.3 293.3 L453.3 291.7 L461.7 298.3 L463.3 303.3 L473.3 310.0 L466.7 316.7 L455.0 320.0 L445.0 316.7Z" fill="#dd3497" stroke="#6e6e6e" stroke-width="0.45"/>
<path d="M448.3 293.3 L449.2 283.3 L453.3 291.7 L461.7 298.3 L458.3 299.2 L453.3 293.3Z" fill="#fcc5c0" stroke="#6e6e6e" stroke-width="0.45"/>
<path d="M463.3 301.7 L478.3 299.2 L480.8 301.7 L476.7 311.7 L468.3 323.3 L460.0 333.3 L458.3 320.0 L466.7 316.7 L473.3 310.0Z" fill="#fde0dd" stroke="#6e6e6e" stroke-width="0.45"/>
<path d="M440.0 360.0 L455.0 360.0 L456.7 370.0 L451.7 376.7 L443.3 383.3 L442.5 393.3 L436.7 397.5 L435.0 390.0 L437.5 385.0 L438.3 375.0 L438.3 370.0Z" fill="#ae017e" stroke="#6e6e6e" stroke-width="0.45"/>
<path d="M390.0 375.8 L410.0 377.5 L408.3 390.0 L407.5 400.0 L406.7 406.7 L400.0 406.7 L396.7 396.7 L393.3 386.7Z" fill="#f768a1" stroke="#6e6e6e" stroke-width="0.45"/>
<path d="M410.0 377.5 L421.7 378.3 L425.0 388.3 L428.3 390.0 L420.0 396.7 L411.7 400.0 L408.3 390.0Z" fill="#fa9fb5" stroke="#6e6e6e" stroke-width="0.45"/>
<path d="M423.3 376.7 L431.7 373.3 L438.3 375.0 L437.5 385.0 L435.0 389.2 L428.3 390.0 L425.0 388.3 L421.7 378.3Z" fill="#dd3497" stroke="#6e6e6e" stroke-width="0.45"/>
<path d="M400.0 406.7 L406.7 406.7 L408.3 400.0 L411.7 400.0 L420.0 396.7 L428.3 390.0 L435.0 390.0 L436.7 397.5 L435.0 403.3 L428.3 411.7 L420.0 418.3 L406.7 421.7 L403.3 420.0 L401.7 413.3Z" fill="#7a0177" stroke="#6e6e6e" stroke-width="0.45"/>
<path d="M423.0 408.3 L425.8 406.7 L428.0 408.7 L425.0 410.8Z" fill="#fa9fb5" stroke="#6e6e6e" stroke-width="0.45"/>
<path d="M432.2 399.2 L434.7 398.7 L435.0 401.7 L433.0 402.0Z" fill="#fa9fb5" stroke="#6e6e6e" stroke-width="0.45"/>
<path d="M461.7 391.7 L463.3 381.7 L466.7 373.3 L473.3 366.7 L476.7 363.3 L478.3 371.7 L475.0 381.7 L470.0 393.3 L465.0 398.3Z" fill="#fa9fb5" stroke="#6e6e6e" stroke-width="0.45"/>
<path d="M383.0 313.0 L392.0 307.0 L395.7 301.0 L398.0 310.0 L396.5 317.5 L402.5 322.0 L399.5 324.2 L386.0 324.2 L383.7 319.0Z" fill="#dd3497" stroke="#6e6e6e" stroke-width="0.45"/>
<path d="M395.7 301.0 L398.0 295.0 L411.5 295.0 L413.7 302.5 L420.5 308.5 L425.0 316.0 L432.5 319.0 L425.0 317.5 L417.5 317.5 L410.0 319.0 L405.5 317.5 L402.5 322.0 L396.5 317.5 L398.0 310.0Z" fill="#f768a1" stroke="#6e6e6e" stroke-width="0.45"/>
<path d="M417.5 304.0 L423.5 307.0 L429.5 304.0 L437.0 304.0 L440.0 301.0 L443.0 308.5 L446.0 317.5 L441.5 320.5 L432.5 320.5 L425.0 316.0 L420.5 308.5Z" fill="#f768a1" stroke="#6e6e6e" stroke-width="0.45"/>
<path d="M440.0 295.0 L458.0 295.0 L464.0 304.0 L470.0 311.5 L461.0 319.0 L452.0 321.2 L446.0 317.5 L443.0 308.5 L440.0 301.0Z" fill="#dd3497" stroke="#6e6e6e" stroke-width="0.45"/>
<path d="M383.0 325.0 L399.5 324.2 L402.5 322.0 L404.7 325.0 L402.5 332.5 L399.5 340.0 L395.0 343.0 L392.0 343.0 L389.0 335.5 L384.5 331.0Z" fill="#fa9fb5" stroke="#6e6e6e" stroke-width="0.45"/>
<path d="M404.7 325.0 L405.5 317.5 L410.0 319.0 L417.5 317.5 L425.0 317.5 L432.5 319.0 L431.0 332.5 L431.0 338.5 L428.0 340.0 L429.5 352.0 L428.0 361.0 L425.0 364.0 L419.0 361.0 L416.0 356.5 L413.0 349.0 L402.5 349.0 L399.5 346.0 L392.0 343.0 L395.0 343.0 L399.5 340.0 L402.5 332.5Z" fill="#ae017e" stroke="#6e6e6e" stroke-width="0.45"/>
<path d="M432.5 320.5 L441.5 320.5 L443.0 332.5 L432.5 334.0 L431.0 332.5Z" fill="#ae017e" stroke="#6e6e6e" stroke-width="0.45"/>
<path d="M441.5 320.5 L446.0 317.5 L452.0 321.2 L458.0 322.0 L458.0 337.0 L453.5 343.0 L443.0 334.0 L443.0 332.5Z" fill="#ae017e" stroke="#6e6e6e" stroke-width="0.45"/>
<path d="M431.0 338.5 L434.0 334.0 L443.0 334.0 L453.5 343.0 L453.5 352.0 L455.0 359.5 L446.0 361.0 L440.0 355.0 L432.5 352.0 L429.5 352.0 L428.0 340.0Z" fill="#ae017e" stroke="#6e6e6e" stroke-width="0.45"/>
<path d="M430.2 334.7 L434.0 334.0 L434.0 341.5 L431.0 343.0Z" fill="#fa9fb5" stroke="#6e6e6e" stroke-width="0.45"/>
<path d="M392.0 346.0 L399.5 346.0 L402.5 349.0 L413.0 349.0 L416.0 356.5 L417.5 364.0 L413.0 367.0 L413.0 376.0 L390.5 376.0 L390.5 364.0Z" fill="#dd3497" stroke="#6e6e6e" stroke-width="0.45"/>
<path d="M413.0 367.0 L417.5 364.0 L425.0 364.0 L428.0 361.0 L429.5 352.0 L432.5 352.0 L438.5 356.5 L437.0 368.5 L429.5 371.5 L423.5 377.5 L413.0 377.5Z" fill="#ae017e" stroke="#6e6e6e" stroke-width="0.45"/>
<path d="M440.0 355.0 L446.0 361.0 L455.0 359.5 L456.5 373.0 L450.5 380.5 L443.0 385.0 L438.5 385.0 L437.0 379.0 L440.0 373.0 L443.0 370.0 L441.5 358.0Z" fill="#ae017e" stroke="#6e6e6e" stroke-width="0.45"/>
<path d="M438.5 356.5 L441.5 358.0 L443.0 370.0 L440.7 373.0 L438.5 368.5Z" fill="#f768a1" stroke="#6e6e6e" stroke-width="0.45"/>
<path d="M423.5 377.5 L429.5 371.5 L437.0 368.5 L438.5 374.5 L437.0 385.0 L425.0 385.0Z" fill="#dd3497" stroke="#6e6e6e" stroke-width="0.45"/>
<path d="M618.8 392.5 L622.5 387.5 L632.5 382.5 L643.8 376.2 L650.0 370.0 L657.5 367.5 L667.5 361.2 L677.5 362.5 L682.5 376.2 L687.5 375.0 L691.2 360.0 L695.0 367.5 L697.5 380.0 L705.0 387.5 L708.8 397.5 L707.5 410.0 L700.0 422.5 L690.0 430.0 L680.0 432.5 L670.0 430.0 L662.5 422.5 L660.0 416.2 L650.0 413.8 L637.5 415.0 L625.0 420.0 L617.5 422.5 L616.2 418.8 L618.8 410.0 L620.0 400.0Z" fill="url(#hatch)" stroke="#ccc" stroke-width="0.5"/>
<path d="M670.0 440.0 L677.5 438.8 L678.8 442.5 L672.5 445.5Z" fill="url(#hatch)" stroke="#ccc" stroke-width="0.5"/>
<path d="M736.2 427.5 L742.5 422.5 L745.0 430.0 L750.0 431.2 L740.0 438.8 L735.0 440.0Z" fill="url(#hatch)" stroke="#ccc" stroke-width="0.5"/>
<path d="M710.0 452.5 L717.5 447.5 L725.0 442.5 L732.5 438.8 L731.2 443.8 L722.5 448.8 L712.5 453.0Z" fill="url(#hatch)" stroke="#ccc" stroke-width="0.5"/>
<path d="M737.5 383.8 L739.5 383.0 L743.0 389.5 L740.5 390.5Z" fill="url(#hatch)" stroke="#ccc" stroke-width="0.5"/>
<path d="M707.5 345.0 L715.0 340.0 L717.5 343.8 L710.0 347.5Z" fill="#fa9fb5" stroke="#6e6e6e" stroke-width="0.45"/>
<path d="M770.0 376.2 L775.0 373.8 L776.2 375.5 L772.0 378.8Z" fill="#fde0dd" stroke="#6e6e6e" stroke-width="0.45"/>
<path d="M450.0 219.5 L456.0 216.5 L465.0 216.5 L468.7 221.7 L471.7 230.7 L469.5 231.5 L466.5 228.5 L462.0 227.0 L459.0 228.5 L457.5 222.5Z" fill="#fde0dd" stroke="#6e6e6e" stroke-width="0.45"/>
<path d="M408.5 198.5 L411.6 195.3 L424.4 194.8 L429.6 194.2 L433.9 197.4 L442.4 198.5 L443.4 201.6 L443.4 204.8 L440.2 206.9 L438.1 207.5 L434.9 209.1 L433.9 212.2 L431.8 213.3 L429.6 211.2 L427.5 208.0 L424.4 209.6 L422.2 208.5 L420.1 204.8 L414.8 203.8 L408.5 203.8Z" fill="#dd3497" stroke="#6e6e6e" stroke-width="0.45"/>
<path d="M425.4 190.0 L482.6 190.0 L485.8 196.4 L480.5 197.4 L467.8 196.4 L458.2 198.5 L459.3 204.8 L462.5 206.9 L463.5 211.2 L461.4 214.4 L463.5 217.5 L465.1 221.8 L459.3 220.7 L452.9 218.6 L447.6 216.5 L442.4 213.3 L441.3 210.1 L442.4 207.5 L443.4 204.8 L443.4 201.6 L442.4 198.5 L433.9 197.4 L429.6 194.2 L426.5 193.2Z" fill="#ae017e" />
<path d="M458.2 198.5 L467.8 196.4 L480.5 197.4 L485.8 196.4 L490.0 202.7 L490.0 215.4 L482.6 213.3 L478.4 216.5 L476.2 219.6 L473.1 210.1 L470.9 208.0 L464.6 209.1 L460.4 212.8 L459.3 204.8Z" fill="#fa9fb5" stroke="#6e6e6e" stroke-width="0.45"/>
<path d="M406.4 209.1 L414.8 204.3 L420.1 204.8 L422.2 208.5 L424.4 209.6 L422.2 212.2 L416.9 214.9 L408.5 214.4Z" fill="#fcc5c0" stroke="#6e6e6e" stroke-width="0.45"/>
<path d="M420.1 204.8 L424.4 203.8 L427.5 208.0 L424.4 209.6 L422.2 208.5Z" fill="#fa9fb5" stroke="#6e6e6e" stroke-width="0.45"/>
<path d="M410.6 216.5 L416.9 214.9 L422.2 212.2 L422.2 218.6 L418.0 220.7 L411.6 220.7Z" fill="#fff7f3" stroke="#6e6e6e" stroke-width="0.45"/>
<path d="M419.1 223.9 L424.4 221.8 L429.6 221.2 L434.9 220.2 L440.2 220.7 L445.5 221.2 L450.8 220.7 L456.1 221.8 L460.4 224.9 L459.3 230.2 L452.9 232.4 L442.4 233.4 L434.9 234.5 L426.5 232.4 L420.1 231.3 L419.1 227.1Z" fill="#fde0dd" stroke="#6e6e6e" stroke-width="0.45"/>
<path d="M450.8 220.7 L449.8 217.5 L456.1 218.6 L463.5 220.7 L465.7 221.8 L468.8 224.9 L467.8 231.3 L463.5 229.2 L459.3 227.1 L457.2 224.9 L456.1 221.8Z" fill="#fde0dd" stroke="#6e6e6e" stroke-width="0.45"/>
<path d="M477.3 220.7 L482.6 219.6 L490.0 221.8 L490.0 230.2 L477.3 231.3Z" fill="#fff7f3" stroke="#6e6e6e" stroke-width="0.45"/>
<path d="M422.2 212.2 L426.5 208.5 L430.7 211.2 L433.9 212.8 L439.2 212.8 L444.5 214.4 L449.8 217.5 L450.8 220.7 L445.5 221.2 L440.2 220.7 L434.9 220.2 L429.6 221.2 L424.4 221.8 L422.2 218.6Z" fill="#fff" />
<path d="M434.9 209.1 L439.2 206.9 L442.4 207.5 L441.3 210.1 L437.1 210.6Z" fill="#fff" />
<path d="M460.4 212.8 L464.6 209.1 L470.9 208.0 L473.1 210.1 L468.8 215.4 L472.0 220.7 L476.2 224.9 L477.3 231.3 L474.1 232.4 L469.9 230.2 L467.8 224.9 L465.1 221.8 L463.5 217.5 L461.4 214.4Z" fill="#fff" stroke="#6e6e6e" stroke-width="0.45"/>
<path d="M215.8 131.2 L228.1 126.6 L244.9 124.2 L258.6 123.5 L269.4 122.7 L263.2 129.6 L247.9 137.3 L235.7 140.4 L223.5 137.3Z" fill="url(#hatch)" stroke="#ccc" stroke-width="0.5"/>
<path d="M168.4 138.7 L180.6 134.9 L191.4 134.1 L202.1 133.4 L203.6 138.0 L194.4 141.8 L180.6 142.6 L171.5 141.8Z" fill="url(#hatch)" stroke="#ccc" stroke-width="0.5"/>
<path d="M202.2 132.6 L211.4 130.2 L223.6 131.8 L220.5 139.4 L211.4 141.8 L202.2 138.7Z" fill="url(#hatch)" stroke="#ccc" stroke-width="0.5"/>
<path d="M151.9 145.8 L161.1 141.2 L176.4 140.4 L194.8 142.0 L200.9 145.8 L194.8 153.4 L179.5 154.9 L164.2 154.9 L155.0 151.9Z" fill="url(#hatch)" stroke="#ccc" stroke-width="0.5"/>
<path d="M193.9 144.5 L204.6 141.4 L212.3 142.9 L209.2 152.1 L198.5 155.2Z" fill="url(#hatch)" stroke="#ccc" stroke-width="0.5"/>
<path d="M207.8 144.9 L220.1 140.4 L238.4 138.8 L247.6 144.9 L253.7 152.6 L256.8 161.8 L247.6 169.4 L238.4 172.5 L229.2 167.9 L220.1 161.8 L210.9 155.6Z" fill="url(#hatch)" stroke="#ccc" stroke-width="0.5"/>
<path d="M203.9 160.5 L211.6 158.9 L217.7 165.1 L214.6 171.2 L207.0 169.6Z" fill="url(#hatch)" stroke="#ccc" stroke-width="0.5"/>
<path d="M358.8 216.5 L363.5 218.2 L367.6 218.5" fill="none" stroke="#c8c8c8" stroke-width="0.5"/>
<path d="M346.5 215.9 L347.1 224.1 L345.3 233.5" fill="none" stroke="#c8c8c8" stroke-width="0.5"/>
<path d="M369.4 198.8 L374.1 202.9 L375.9 208.8 L377.1 211.4" fill="none" stroke="#c8c8c8" stroke-width="0.5"/>
<path d="M391.8 187.6 L392.9 193.5 L391.8 198.2 L394.1 201.2" fill="none" stroke="#c8c8c8" stroke-width="0.5"/>
<path d="M374.1 202.9 L378.8 204.1 L384.7 203.5 L391.8 199.4 L398.8 202.0" fill="none" stroke="#c8c8c8" stroke-width="0.5"/>
<path d="M377.1 208.8 L387.1 207.9 L395.3 206.5 L397.6 205.3" fill="none" stroke="#c8c8c8" stroke-width="0.5"/>
<path d="M394.1 201.2 L403.5 201.5 L408.2 201.8" fill="none" stroke="#c8c8c8" stroke-width="0.5"/>
<path d="M377.6 186.5 L380.0 187.6 L382.9 185.3" fill="none" stroke="#c8c8c8" stroke-width="0.5"/>
<path d="M204.0 420.0 L208.0 420.0 L210.0 443.0 L214.0 460.0 L222.0 467.0 L225.0 468.0 L229.0 470.0 L235.0 474.5 L229.0 475.2 L223.0 474.2 L217.0 471.0 L211.0 465.0 L207.0 454.0 L206.0 445.0 L203.0 430.0Z" fill="#fcc5c0" stroke="#6e6e6e" stroke-width="0.45"/>
<path d="M208.0 420.0 L235.0 420.0 L239.0 426.0 L237.0 432.0 L229.0 434.0 L228.0 439.0 L225.0 440.0 L227.0 443.0 L225.0 449.0 L223.0 453.0 L227.0 456.0 L225.0 462.0 L224.0 467.0 L222.0 467.0 L214.0 460.0 L210.0 443.0Z" fill="#fa9fb5" stroke="#6e6e6e" stroke-width="0.45"/>
<path d="M224.2 468.2 L226.2 468.0 L235.0 474.5 L230.0 473.2Z" fill="#fa9fb5" stroke="#6e6e6e" stroke-width="0.45"/>
<path d="M198.0 278.7 L200.3 278.3 L205.0 280.8 L203.3 282.7 L198.7 282.0Z" fill="#fa9fb5" stroke="#6e6e6e" stroke-width="0.45"/>
<path d="M539.7 201.8 L555.0 198.8 L555.0 240.0 L531.5 240.0 L525.6 234.1 L523.2 230.6 L530.3 222.4 L531.5 217.6 L532.6 210.6 L537.4 205.9Z" fill="#dd3497" />
<path d="M457.9 198.8 L462.1 195.3 L469.1 195.3 L475.0 197.6 L484.4 197.1 L482.6 190.6 L487.9 188.2 L497.4 186.5 L504.4 189.4 L512.6 188.8 L523.2 196.5 L530.3 197.6 L539.7 201.8 L537.4 205.9 L532.6 210.6 L531.5 217.6 L520.9 218.8 L513.8 217.6 L511.5 221.2 L506.8 220.6 L502.1 215.3 L493.8 214.7 L485.6 211.8 L479.1 211.8 L478.5 217.6 L472.6 217.6 L466.8 209.4 L460.9 207.1 L457.9 203.5Z" fill="#fa9fb5" stroke="#6e6e6e" stroke-width="0.45"/>
<path d="M479.1 211.8 L485.6 211.8 L493.8 214.7 L502.1 215.3 L506.8 220.6 L511.5 221.2 L513.8 224.7 L510.3 227.1 L507.9 231.8 L502.1 229.4 L493.8 223.5 L486.8 220.0 L479.7 217.6Z" fill="#fa9fb5" stroke="#6e6e6e" stroke-width="0.45"/>
<path d="M476.2 220.6 L478.5 217.6 L486.8 220.0 L493.8 223.5 L502.1 229.4 L505.6 232.9 L502.1 236.5 L493.8 232.9 L485.6 230.6 L479.7 231.8 L475.0 224.7Z" fill="#fff7f3" stroke="#6e6e6e" stroke-width="0.45"/>
<path d="M512.6 218.8 L520.9 218.8 L531.5 217.6 L530.3 222.4 L522.1 225.9 L515.0 224.7Z" fill="#fde0dd" stroke="#6e6e6e" stroke-width="0.45"/>
<path d="M509.1 227.1 L513.8 224.7 L522.1 225.9 L523.2 230.6 L517.4 231.8 L510.3 230.6Z" fill="#fcc5c0" stroke="#6e6e6e" stroke-width="0.45"/>
<path d="M493.8 232.9 L502.1 236.5 L505.6 232.9 L510.3 230.6 L517.4 231.8 L523.2 230.6 L525.6 234.1 L520.9 236.5 L516.2 241.2 L496.2 241.2Z" fill="#fde0dd" stroke="#6e6e6e" stroke-width="0.45"/>
<path d="M460.3 211.8 L465.6 208.2 L471.5 207.6 L472.6 210.6 L467.9 212.9 L471.5 218.8 L478.5 222.4 L479.7 231.8 L473.8 232.9 L469.1 229.4 L467.9 221.2 L464.4 216.5Z" fill="#fff" stroke="#6e6e6e" stroke-width="0.45"/>
<path d="M580.8 256.7 L590.8 255.0 L630.0 255.0 L630.0 269.2 L623.3 270.8 L616.7 274.2 L610.0 274.2 L606.7 270.8 L601.7 270.0 L596.7 270.8 L594.2 272.5 L590.0 274.2 L585.8 266.7 L584.2 258.3Z" fill="#dd3497" />
<path d="M570.0 257.5 L575.0 255.0 L580.8 256.7 L578.3 261.7 L575.0 264.2 L573.3 271.7 L570.0 269.2Z" fill="#7a0177" />
<path d="M575.0 264.2 L578.3 261.7 L580.8 256.7 L584.2 258.3 L585.8 266.7 L590.0 274.2 L592.5 275.8 L590.8 278.3 L586.7 280.0 L585.8 282.5 L586.7 288.3 L582.5 289.2 L580.0 288.3 L578.3 281.7 L575.0 276.7 L573.3 271.7Z" fill="#f768a1" stroke="#6e6e6e" stroke-width="0.45"/>
<path d="M596.7 270.8 L601.7 270.0 L606.7 270.8 L610.0 274.2 L606.7 278.3 L605.0 282.5 L609.2 286.7 L612.5 290.0 L615.0 294.2 L615.0 300.0 L610.0 303.3 L605.8 304.2 L604.2 302.5 L609.2 300.0 L610.0 294.2 L609.2 290.8 L606.7 286.7 L603.3 282.5 L600.0 280.0 L600.8 277.5 L597.5 274.2Z" fill="#f768a1" stroke="#6e6e6e" stroke-width="0.45"/>
<path d="M591.7 276.7 L595.0 272.5 L597.5 274.2 L600.8 277.5 L600.0 280.0 L603.3 282.5 L606.7 286.7 L609.2 290.8 L610.0 294.2 L606.7 293.3 L605.0 291.7 L600.8 285.0 L598.3 283.3 L594.2 284.2 L593.3 279.2Z" fill="#fcc5c0" stroke="#6e6e6e" stroke-width="0.45"/>
<path d="M586.7 280.0 L590.8 278.3 L593.3 279.2 L594.2 284.2 L598.3 283.3 L600.8 285.0 L605.0 291.7 L601.7 294.2 L599.2 296.7 L595.0 294.2 L591.7 291.7 L590.0 294.2 L591.7 299.2 L592.5 305.0 L590.8 305.0 L589.2 298.3 L587.5 293.3 L586.7 288.3 L585.8 282.5Z" fill="#dd3497" stroke="#6e6e6e" stroke-width="0.45"/>
<path d="M599.2 295.0 L601.7 294.2 L605.0 291.7 L606.7 293.3 L610.0 294.2 L610.8 299.2 L606.7 302.5 L601.7 301.7 L599.2 298.3Z" fill="#fcc5c0" stroke="#6e6e6e" stroke-width="0.45"/>
<path d="M611.7 278.3 L615.0 277.5 L616.2 280.0 L613.3 282.5 L611.2 280.8Z" fill="#dd3497" stroke="#6e6e6e" stroke-width="0.45"/>
<path d="M541.3 201.2 L548.4 197.6 L559.6 198.4 L561.1 195.5 L569.5 199.1 L580.8 201.2 L589.3 199.8 L597.8 199.1 L599.2 204.0 L609.1 206.1 L606.2 208.2 L597.8 210.4 L596.4 215.3 L586.5 220.2 L576.6 218.1 L565.3 216.7 L555.4 213.2 L549.8 208.2Z" fill="#fde0dd" stroke="#6e6e6e" stroke-width="0.45"/>
<path d="M538.5 194.1 L548.4 193.4 L559.6 194.1 L561.1 191.3 L572.4 194.1 L589.3 195.5 L600.6 193.4 L599.2 199.8 L597.8 199.1 L589.3 199.8 L580.8 201.2 L569.5 199.1 L561.1 195.5 L559.6 198.4 L548.4 197.6 L541.3 201.2Z" fill="#ae017e" />
<path d="M541.3 201.2 L549.8 208.2 L555.4 213.2 L565.3 216.7 L576.6 218.1 L586.5 220.2 L596.4 215.3 L597.8 210.4 L606.2 208.2 L609.1 206.1 L599.2 204.0 L597.8 199.1 L600.6 202.6 L614.7 208.2 L614.7 225.2 L530.0 225.2 L530.0 215.3 L538.5 202.6Z" fill="#dd3497" />
<path d="M541.3 201.2 L548.4 197.6 L559.6 198.4 L561.1 195.5 L569.5 199.1 L580.8 201.2 L589.3 199.8 L597.8 199.1 L599.2 204.0 L609.1 206.1 L606.2 208.2 L597.8 210.4 L596.4 215.3 L586.5 220.2 L576.6 218.1 L565.3 216.7 L555.4 213.2 L549.8 208.2Z" fill="#fde0dd" stroke="#6e6e6e" stroke-width="0.45"/>
</g>
<!-- legend -->
<g id="legend">
<rect x="127.5" y="538.5" width="48" height="10" fill="url(#hatch)" stroke="#bbb" stroke-width="1"/>
<line x1="151.5" y1="535" x2="151.5" y2="538" stroke="#bbb"/>
<g stroke="#aaa" stroke-width="0.8">
<rect x="194.8" y="538.5" width="58.59" height="10" fill="#fff7f3"/>
<rect x="253.4" y="538.5" width="58.59" height="10" fill="#fde0dd"/>
<rect x="312.0" y="538.5" width="58.59" height="10" fill="#fcc5c0"/>
<rect x="370.6" y="538.5" width="58.59" height="10" fill="#fa9fb5"/>
<rect x="429.2" y="538.5" width="58.59" height="10" fill="#f768a1"/>
<rect x="487.8" y="538.5" width="58.59" height="10" fill="#dd3497"/>
<rect x="546.3" y="538.5" width="58.59" height="10" fill="#ae017e"/>
<rect x="604.9" y="538.5" width="58.59" height="10" fill="#7a0177"/>
</g>
<path d="M663.5 538.5 H714.5 L722 543.5 L714.5 548.5 H663.5 Z" fill="#49006a"/>
<g stroke="#999" stroke-width="0.8">
<line x1="194.8" y1="535" x2="194.8" y2="548.5"/>
<line x1="253.4" y1="535" x2="253.4" y2="548.5"/>
<line x1="312.0" y1="535" x2="312.0" y2="548.5"/>
<line x1="370.6" y1="535" x2="370.6" y2="548.5"/>
<line x1="429.2" y1="535" x2="429.2" y2="548.5"/>
<line x1="487.8" y1="535" x2="487.8" y2="548.5"/>
<line x1="546.3" y1="535" x2="546.3" y2="548.5"/>
<line x1="604.9" y1="535" x2="604.9" y2="548.5"/>
<line x1="663.5" y1="535" x2="663.5" y2="548.5"/>
</g>
<g font-family="Liberation Sans" font-size="13" fill="#333" text-anchor="middle">
<text x="151.5" y="531.5">No data</text>
<text x="194.8" y="531.5">0</text>
<text x="253.4" y="531.5">0</text>
<text x="312.0" y="531.5">100</text>
<text x="370.6" y="531.5">300</text>
<text x="429.2" y="531.5">1,000</text>
<text x="487.8" y="531.5">3,000</text>
<text x="546.3" y="531.5">10,000</text>
<text x="604.9" y="531.5">30,000</text>
<text x="663.5" y="531.5">100,000</text>
</g>
</g>
</svg>
<div class="t" id="foot"><b>Data source:</b> Joint United Nations Programme on HIV/AIDS (2026); Population based on various sources (2024)</div>
<div class="t" id="footr">hiv-aids | CC BY</div>
</body></html>
